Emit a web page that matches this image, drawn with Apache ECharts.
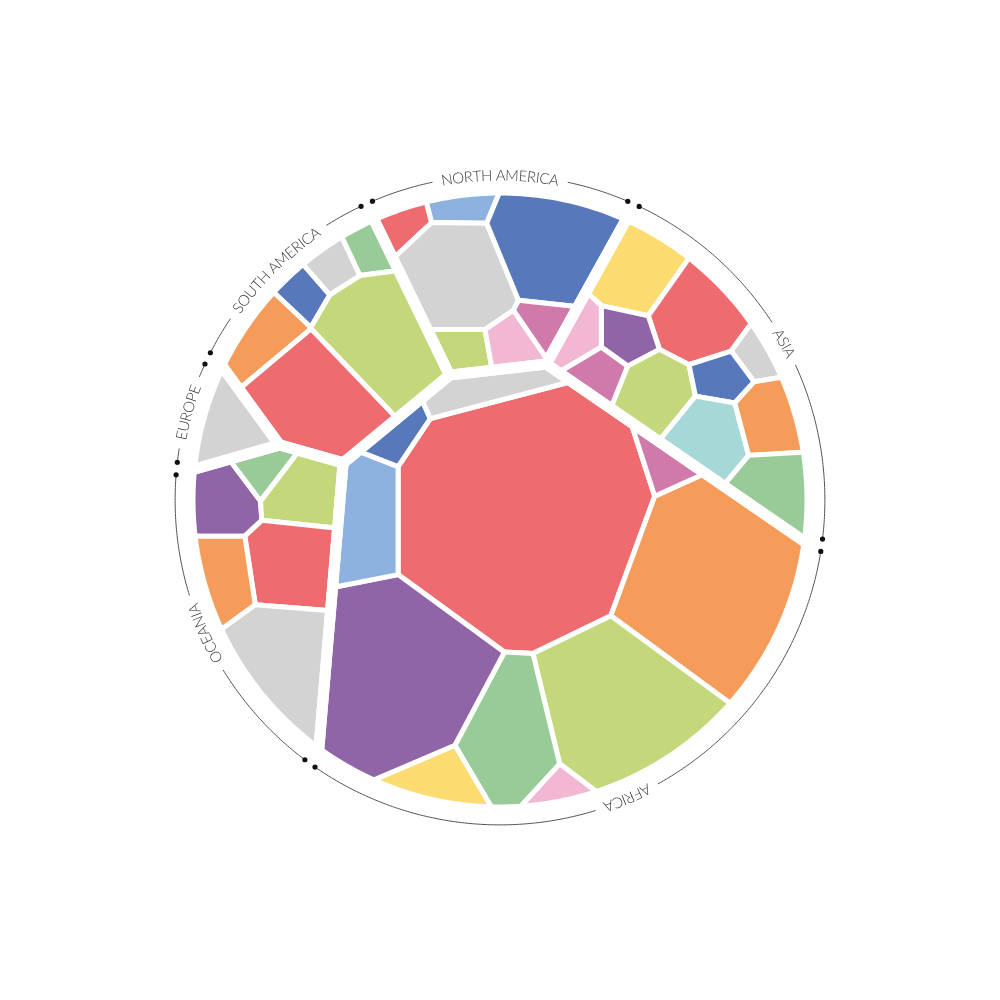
<!DOCTYPE html>
<html><head><meta charset="utf-8">
<script src="https://cdn.jsdelivr.net/npm/echarts@6/dist/echarts.min.js"></script>
<style>html,body{margin:0;background:#fff}#c{width:1000px;height:1000px}</style>
</head><body><div id="c"></div>
<script>
// ---------------- data ----------------
const continentNames = ['North America','Asia','Africa','Oceania','Europe','South America'];
const continentLabels = ['NORTH AMERICA','ASIA','AFRICA','OCEANIA','EUROPE','SOUTH AMERICA'];
const cellContinent = [0,0,0,0,0,0,0, 1,1,1,1,1,1,1,1,1,1,1, 2,2,2,2,2,2,2,2,2,2,2, 3,3,3,3,3,3, 4, 5,5,5,5,5,5];
const cellValue = [1800,1850,9400,10700,2100,2200,1900,
  5600,6500,1600,2350,2200,2050,4600,2150,4600,3900,4600,
  49700,26500,20000,10000,1600,3800,25000,7000,2000,3900,2050,
  4200,1800,4450,6700,3950,9400,
  4400,
  3900,1800,1800,1850,11000,11000];

// ---------------- styles ----------------
const palette = {red:'#EE6C70', lightblue:'#8EB2DF', gray:'#D3D3D3', blue:'#5778BA', lime:'#C3D87B',
  pink:'#F1B7D3', magenta:'#D07AAB', yellow:'#FCDC70', purple:'#9065A8', orange:'#F59C5A', green:'#99CB99', cyan:'#A6D8D8'};
const cellColor = ['red','lightblue','gray','blue','lime','pink','magenta',
  'yellow','red','gray','purple','pink','magenta','lime','blue','cyan','orange','green',
  'red','orange','lime','green','pink','yellow','purple','lightblue','blue','gray','magenta',
  'purple','green','lime','red','orange','gray',
  'gray',
  'orange','blue','gray','green','lime','red'];

// ---------------- layout hints (initial sites, unit circle) ----------------
const cellSeed = [[-0.281,0.890],[-0.110,0.935],[-0.113,0.710],[0.161,0.823],[-0.113,0.481],[0.026,0.506],[0.135,0.581],
 [0.458,0.719],[0.645,0.587],[0.829,0.452],[0.413,0.510],[0.265,0.510],[0.332,0.397],[0.510,0.326],[0.716,0.368],[0.684,0.184],[0.865,0.232],[0.877,0.023],
 [0.071,-0.048],[0.687,-0.274],[0.382,-0.689],[0.036,-0.773],[0.203,-0.926],[-0.184,-0.903],[-0.320,-0.584],[-0.426,-0.048],[-0.323,0.216],[-0.032,0.345],[0.519,0.097],
 [-0.887,-0.016],[-0.758,0.081],[-0.652,0.000],[-0.677,-0.242],[-0.887,-0.274],[-0.700,-0.532],
 [-0.877,0.226],
 [-0.781,0.500],[-0.629,0.661],[-0.529,0.748],[-0.419,0.800],[-0.381,0.516],[-0.610,0.296]];

// ---------------- power-diagram (voronoi treemap) layout ----------------
function clipHP(poly, ax, ay, b){
  const out=[], n=poly.length;
  for(let k=0;k<n;k++){
    const P=poly[k], Q=poly[(k+1)%n];
    const dp=ax*P[0]+ay*P[1]-b, dq=ax*Q[0]+ay*Q[1]-b;
    if(dp<=0) out.push(P);
    if((dp<0&&dq>0)||(dp>0&&dq<0)){const t=dp/(dp-dq); out.push([P[0]+t*(Q[0]-P[0]), P[1]+t*(Q[1]-P[1])]);}
  }
  return out;
}
function powerCell(i,S,W,region){
  let poly=region; const pi=S[i], pp=pi[0]*pi[0]+pi[1]*pi[1];
  for(let j=0;j<S.length;j++){ if(j===i) continue;
    const pj=S[j];
    poly=clipHP(poly, 2*(pj[0]-pi[0]), 2*(pj[1]-pi[1]), (pj[0]*pj[0]+pj[1]*pj[1])-pp-W[j]+W[i]);
    if(poly.length<3) return [];
  }
  return poly;
}
function polyArea(p){let s=0;for(let k=0;k<p.length;k++){const a=p[k],b=p[(k+1)%p.length];s+=a[0]*b[1]-b[0]*a[1];}return s/2;}
function polyCentroid(p){let s=0,cx=0,cy=0;for(let k=0;k<p.length;k++){const a=p[k],b=p[(k+1)%p.length];const c=a[0]*b[1]-b[0]*a[1];s+=c;cx+=(a[0]+b[0])*c;cy+=(a[1]+b[1])*c;}return [cx/(3*s),cy/(3*s)];}
function insideConvex(poly,p,m){for(let k=0;k<poly.length;k++){const a=poly[k],b=poly[(k+1)%poly.length];
  const ex=b[0]-a[0], ey=b[1]-a[1], L=Math.hypot(ex,ey)||1; if((ex*(p[1]-a[1])-ey*(p[0]-a[0]))/L < m) return false;} return true;}
function solve(region,S,targets,iters){
  const n=S.length; if(n===1) return [region.slice()];
  const RA=polyArea(region), sumT=targets.reduce((a,b)=>a+b,0);
  const T=targets.map(t=>t/sumT*RA), W=new Array(n).fill(0), h=1e-6;
  for(let it=0;it<iters;it++){
    const A=S.map((_,i)=>{const c=powerCell(i,S,W,region);return c.length?polyArea(c):0;});
    const D=[];
    for(let i=0;i<n;i++){
      W[i]+=h; const c2=powerCell(i,S,W,region); W[i]-=h;
      const H=((c2.length?polyArea(c2):0)-A[i])/h;
      let d=H>1e-9?0.5*(T[i]-A[i])/H:(T[i]>A[i]?0.002:-0.002);
      D.push(Math.max(-0.05,Math.min(0.05,d)));
    }
    for(let i=0;i<n;i++) W[i]+=D[i];
    for(let pass=0;pass<3;pass++) for(let i=0;i<n;i++) for(let j=0;j<n;j++){ if(i===j) continue;
      const d2=(S[i][0]-S[j][0])**2+(S[i][1]-S[j][1])**2;
      if(W[i]-W[j]>0.98*d2) W[i]=W[j]+0.98*d2;
    }
  }
  return S.map((_,i)=>powerCell(i,S,W,region));
}
const circle=[]; for(let k=0;k<360;k++){const t=2*Math.PI*k/360; circle.push([Math.cos(t),Math.sin(t)]);}
const contTotals=continentNames.map((_,c)=>cellValue.reduce((s,v,i)=>s+(cellContinent[i]===c?v:0),0));
const contSeeds=continentNames.map((_,c)=>{let x=0,y=0,s=0;cellValue.forEach((v,i)=>{if(cellContinent[i]===c){x+=v*cellSeed[i][0];y+=v*cellSeed[i][1];s+=v;}});return [x/s,y/s];});
const contPolys=solve(circle,contSeeds,contTotals,500);
const cellPolys=new Array(cellValue.length);
continentNames.forEach((_,c)=>{
  const idx=cellValue.map((v,i)=>i).filter(i=>cellContinent[i]===c);
  const region=contPolys[c], cen=polyCentroid(region);
  const S=idx.map(i=>{let p=cellSeed[i].slice(),k=0; while(!insideConvex(region,p,0.01)&&k<80){p=[cen[0]+0.93*(p[0]-cen[0]),cen[1]+0.93*(p[1]-cen[1])];k++;} return p;});
  const polys=solve(region,S,idx.map(i=>cellValue[i]),500);
  idx.forEach((i,k)=>cellPolys[i]=polys[k]);
});
// continent arc extents on the circle
const contArcs=contPolys.map(poly=>{
  const cen=polyCentroid(poly), phi=Math.atan2(cen[1],cen[0]); let lo=Infinity,hi=-Infinity;
  poly.forEach(p=>{ if(Math.hypot(p[0],p[1])>0.998){ let d=Math.atan2(p[1],p[0])-phi; while(d>Math.PI)d-=2*Math.PI; while(d<-Math.PI)d+=2*Math.PI; lo=Math.min(lo,d); hi=Math.max(hi,d);} });
  return [phi+lo,phi+hi];
});

// ---------------- chart ----------------
const ringR=1.048, textR=1.046, padA=1.1*Math.PI/180;
const FONT_SIZE=15, FONT_FAMILY='Lato, "Open Sans", sans-serif', FONT_WEIGHT=300, LETTER=-0.3;
const mctx=document.createElement('canvas').getContext('2d');
mctx.font=FONT_WEIGHT+' '+FONT_SIZE+'px '+FONT_FAMILY;

function renderCell(params,api){
  const poly=cellPolys[params.dataIndex]; if(!poly||poly.length<3) return null;
  return {type:'polygon', shape:{points:poly.map(p=>api.coord(p))},
    style:{fill:palette[cellColor[params.dataIndex]], stroke:'#fff', lineWidth:5, lineJoin:'round'}};
}
function renderCont(params,api){
  const poly=contPolys[params.dataIndex];
  return {type:'polygon', shape:{points:poly.map(p=>api.coord(p))},
    style:{fill:'none', stroke:'#fff', lineWidth:11, lineJoin:'round'}};
}
function arcPts(api,a0,a1,r){const pts=[],n=Math.max(2,Math.ceil(Math.abs(a1-a0)/0.01));for(let k=0;k<=n;k++){const t=a0+(a1-a0)*k/n;pts.push(api.coord([r*Math.cos(t),r*Math.sin(t)]));}return pts;}
function renderLabel(params,api){
  const c=params.dataIndex, [a0,a1]=contArcs[c];
  const s=api.coord([1,0])[0]-api.coord([0,0])[0];
  const text=continentLabels[c], chars=text.split('');
  const ws=chars.map(ch=>mctx.measureText(ch).width+LETTER);
  const total=ws.reduce((a,b)=>a+b,0)-LETTER;
  const rpx=textR*s, half=total/2/rpx, mid=(a0+a1)/2, gapA=9/(ringR*s);
  const start=a0+padA, end=a1-padA;
  const children=[];
  const lineStyle={stroke:'#555', lineWidth:1, fill:'none'};
  if(end>mid+half+gapA) children.push({type:'polyline',shape:{points:arcPts(api,end,mid+half+gapA,ringR)},style:lineStyle});
  if(mid-half-gapA>start) children.push({type:'polyline',shape:{points:arcPts(api,mid-half-gapA,start,ringR)},style:lineStyle});
  [start,end].forEach(a=>{const p=api.coord([ringR*Math.cos(a),ringR*Math.sin(a)]);children.push({type:'circle',shape:{cx:p[0],cy:p[1],r:2.6},style:{fill:'#111'}});});
  let acc=0;
  chars.forEach((ch,k)=>{
    const th=mid+half-(acc+(ws[k]-LETTER)/2)/rpx; acc+=ws[k];
    const p=api.coord([textR*Math.cos(th),textR*Math.sin(th)]);
    children.push({type:'text',x:p[0],y:p[1],rotation:th-Math.PI/2,
      style:{text:ch,fill:'#3a3a3a',fontSize:FONT_SIZE,fontFamily:FONT_FAMILY,fontWeight:FONT_WEIGHT,align:'center',verticalAlign:'middle'}});
  });
  return {type:'group',children};
}

const chart=echarts.init(document.getElementById('c'));
chart.setOption({
  animation:false,
  backgroundColor:'#fff',
  grid:{left:190,right:190,top:190,bottom:190},
  xAxis:{type:'value',min:-1,max:1,show:false},
  yAxis:{type:'value',min:-1,max:1,show:false},
  series:[
    {type:'custom',name:'countries',clip:false,renderItem:renderCell,
      data:cellValue.map((v,i)=>({name:continentNames[cellContinent[i]]+' '+(i+1),value:[i,v]}))},
    {type:'custom',name:'continents',clip:false,renderItem:renderCont,
      data:continentNames.map((n,c)=>({name:n,value:[c,contTotals[c]]}))},
    {type:'custom',name:'labels',clip:false,renderItem:renderLabel,
      data:continentNames.map((n,c)=>({name:n,value:[c,contTotals[c]]}))}
  ]
});
</script></body></html>
